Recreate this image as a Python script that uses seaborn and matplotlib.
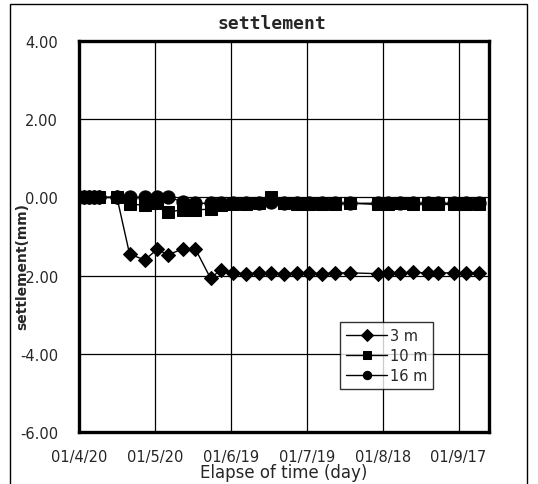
import pandas as pd
import matplotlib
matplotlib.use("Agg")
import matplotlib.pyplot as plt
import seaborn as sns
from matplotlib.patches import Rectangle

# days elapsed since 01/4/20
days = [0, 2, 4, 6, 8, 15, 20, 26, 31, 35, 41, 46, 52, 56, 61, 66, 71, 76, 81,
        86, 91, 96, 101, 107, 118, 122, 127, 132, 138, 142, 148, 153, 158]
s_3m = [0, 0, 0, 0, 0, 0, -1.45, -1.60, -1.32, -1.47, -1.32, -1.32, -2.07, -1.85,
        -1.93, -1.95, -1.93, -1.93, -1.95, -1.93, -1.93, -1.95, -1.93, -1.93,
        -1.95, -1.93, -1.93, -1.92, -1.93, -1.93, -1.93, -1.93, -1.93]
s_10m = [0, 0, 0, 0, 0, 0, -0.17, -0.20, -0.15, -0.37, -0.32, -0.32, -0.30, -0.20,
         -0.18, -0.18, -0.15, 0.02, -0.15, -0.18, -0.18, -0.18, -0.17, -0.15,
         -0.18, -0.17, -0.15, -0.17, -0.17, -0.17, -0.18, -0.17, -0.18]
s_16m = [0, 0, 0, 0, 0, 0, 0, 0, 0, 0.02, -0.12, -0.15, -0.15, -0.15,
         -0.15, -0.15, -0.15, -0.12, -0.15, -0.15, -0.15, -0.15, -0.15, -0.15,
         -0.15, -0.15, -0.15, -0.15, -0.15, -0.15, -0.15, -0.15, -0.15]
depths = ["3 m", "10 m", "16 m"]
tick_days = [0, 30, 60, 90, 120, 150]
tick_labels = ["01/4/20", "01/5/20", "01/6/19", "01/7/19", "01/8/18", "01/9/17"]

df = pd.concat([
    pd.DataFrame({"day": days, "settlement": vals, "depth": name})
    for name, vals in zip(depths, [s_3m, s_10m, s_16m])
])

sns.set_style("white")
plt.rcParams["font.family"] = ["DejaVu Sans"]

fig = plt.figure(figsize=(5.38, 4.85), dpi=100)
ax = fig.add_axes([0.1468, 0.1072, 0.7621, 0.8062])

sns.lineplot(data=df, x="day", y="settlement", hue="depth", style="depth",
             hue_order=depths, style_order=depths,
             palette=["black"] * 3, markers={"3 m": "D", "10 m": "s", "16 m": "o"},
             dashes=False, markeredgecolor="black", linewidth=1,
             sort=False, ax=ax)
for line, ms in zip(ax.lines, [7, 8, 9.5]):
    line.set_markersize(ms)

ax.set_xlim(0, 162)
ax.set_ylim(-6, 4)
ax.set_xticks(tick_days)
ax.set_xticklabels(tick_labels)
ax.set_yticks([-6, -4, -2, 0, 2, 4])
ax.set_yticklabels([f"{v:.2f}" for v in [-6, -4, -2, 0, 2, 4]])
ax.tick_params(length=0, labelsize=10.5)
ax.tick_params(axis="x", pad=12)
ax.tick_params(axis="y", pad=15)
ax.grid(True, color="black", linewidth=0.9)
for sp in ax.spines.values():
    sp.set_color("black")
    sp.set_linewidth(2.4)

ax.set_xlabel("Elapse of time (day)", fontsize=12)
ax.xaxis.set_label_coords(0.5, -0.078)
ax.set_ylabel("settlement(mm)", fontsize=10, fontweight="bold")
ax.yaxis.set_label_coords(-0.122, 0.425)

handles, labels = ax.get_legend_handles_labels()
for h in handles:
    h.set_color("black")
leg = ax.legend(handles, labels, loc="lower left", bbox_to_anchor=(0.62, 0.092),
                frameon=True, fancybox=False, fontsize=10.5, handlelength=2.8,
                labelspacing=0.35, borderpad=0.4, handletextpad=0.2)
leg.get_frame().set_edgecolor("black")
leg.get_frame().set_linewidth(1)

fig.text(0.505, 0.95, "settlement", ha="center", va="center", fontsize=13,
         family="DejaVu Sans Mono", fontweight="bold")
fig.patches.append(Rectangle((0.0186, -0.02), 0.961, 1.0097, transform=fig.transFigure,
                             fill=False, edgecolor="black", linewidth=1))

fig.savefig("out.png", dpi=100)
